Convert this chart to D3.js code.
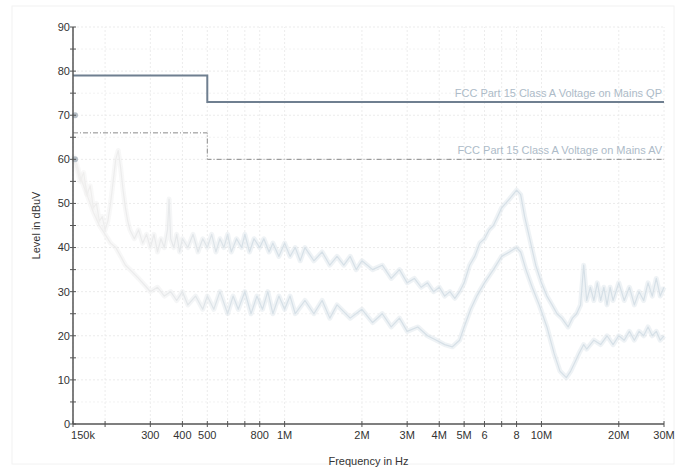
<!DOCTYPE html>
<html>
<head>
<meta charset="utf-8">
<script src="https://cdn.jsdelivr.net/npm/d3@7"></script>
<style>
  body { margin: 0; background: #fff; }
  svg { display: block; font-family: Arial, "Liberation Sans", sans-serif; }
</style>
</head>
<body>
<div id="chart"></div>
<script>
//DATA (frequency in MHz, level in dBuV)
const xTicks = [0.15, 0.2, 0.3, 0.4, 0.5, 0.6, 0.7, 0.8, 1, 2, 3, 4, 5, 6, 7, 8, 10, 20, 30];
const xTickLabels = ["150k", "", "300", "400", "500", "", "", "800", "1M", "2M", "3M", "4M", "5M", "6", "", "8", "10M", "20M", "30M"];
const yTicks = [0, 10, 20, 30, 40, 50, 60, 70, 80, 90];

const limitQP = [[0.15, 79], [0.5, 79], [0.5, 73], [30, 73]];
const limitAV = [[0.15, 66], [0.5, 66], [0.5, 60], [30, 60]];
const limitLabels = ["FCC Part 15 Class A Voltage on Mains QP", "FCC Part 15 Class A Voltage on Mains AV"];

const markers = [[0.15, 70], [0.15, 60]];

const peakTrace = [
  [0.150, 60], [0.155, 58], [0.160, 55], [0.165, 57], [0.170, 52], [0.175, 54], [0.180, 49],
  [0.185, 50], [0.190, 46], [0.195, 47], [0.200, 44], [0.205, 46], [0.210, 50], [0.215, 55],
  [0.220, 60], [0.225, 62], [0.230, 58], [0.235, 53], [0.240, 49], [0.245, 46], [0.250, 44],
  [0.260, 42], [0.270, 44], [0.280, 41], [0.290, 43], [0.300, 40], [0.310, 43], [0.320, 39],
  [0.330, 42], [0.340, 40], [0.350, 44], [0.355, 51], [0.360, 42], [0.370, 40], [0.380, 43],
  [0.390, 39], [0.400, 42], [0.420, 40], [0.440, 43], [0.460, 39], [0.480, 42], [0.500, 40],
  [0.520, 43], [0.540, 39], [0.560, 42], [0.580, 40], [0.600, 43], [0.620, 39], [0.650, 42],
  [0.680, 40], [0.700, 43], [0.730, 39], [0.760, 42], [0.800, 40], [0.830, 42], [0.870, 39],
  [0.900, 41], [0.950, 38], [1.00, 41], [1.05, 38], [1.10, 40], [1.15, 37], [1.20, 40],
  [1.30, 37], [1.40, 39], [1.50, 36], [1.60, 38], [1.70, 36], [1.80, 38], [1.90, 35],
  [2.00, 37], [2.20, 35], [2.40, 36], [2.60, 33], [2.80, 35], [3.00, 32], [3.20, 33],
  [3.40, 31], [3.60, 32], [3.80, 30], [4.00, 31], [4.20, 29], [4.40, 30], [4.60, 28.5],
  [4.80, 30], [5.00, 32], [5.25, 36], [5.50, 38], [5.75, 41], [6.00, 42], [6.25, 44],
  [6.50, 45], [6.75, 47], [7.00, 49], [7.25, 50], [7.50, 51], [7.75, 52], [8.00, 53],
  [8.30, 52], [8.60, 47], [9.00, 42], [9.50, 36], [10.0, 32], [10.5, 29], [11.0, 27],
  [11.5, 25], [12.0, 24], [12.7, 22], [13.2, 24], [13.7, 25], [14.2, 27], [14.6, 36],
  [15.0, 28], [15.5, 31], [16.0, 28], [16.5, 32], [17.0, 28], [17.5, 31], [18.0, 27],
  [18.5, 31], [19.0, 28], [20.0, 32], [21.0, 28], [22.0, 31], [23.0, 27], [24.0, 30],
  [25.0, 28], [26.0, 32], [27.0, 29], [28.0, 33], [29.0, 29], [30.0, 31]
];

const avgTrace = [
  [0.150, 61], [0.155, 59], [0.160, 56], [0.170, 52], [0.180, 48], [0.190, 45], [0.200, 43],
  [0.210, 41], [0.220, 40], [0.230, 38], [0.240, 36], [0.250, 35], [0.270, 33], [0.290, 31],
  [0.300, 30], [0.320, 31], [0.340, 29], [0.360, 30], [0.380, 28], [0.400, 30], [0.420, 27],
  [0.450, 29], [0.480, 26], [0.500, 29], [0.530, 26], [0.560, 30], [0.600, 25], [0.630, 29],
  [0.660, 26], [0.700, 30], [0.740, 25], [0.780, 29], [0.820, 26], [0.860, 30], [0.900, 25],
  [0.950, 29], [1.00, 26], [1.05, 29], [1.10, 25], [1.20, 28], [1.30, 25], [1.40, 28],
  [1.50, 24], [1.60, 27], [1.80, 24], [2.00, 26], [2.20, 23], [2.40, 25], [2.60, 22],
  [2.80, 24], [3.00, 21], [3.30, 22], [3.60, 20], [3.90, 19], [4.20, 18], [4.50, 17.5],
  [4.80, 19], [5.00, 22], [5.30, 26], [5.60, 29], [6.00, 32], [6.50, 35], [7.00, 38],
  [7.50, 39], [8.00, 40], [8.30, 39], [8.70, 35], [9.20, 31], [9.80, 27], [10.5, 22],
  [11.2, 16], [11.8, 12], [12.5, 10.5], [13.0, 12], [13.5, 14], [14.0, 16], [14.6, 18],
  [15.0, 17], [16.0, 19], [17.0, 18], [18.0, 20], [19.0, 18], [20.0, 20], [21.0, 19],
  [22.0, 21], [23.0, 19], [24.0, 21], [25.0, 20], [26.0, 22], [27.0, 20], [28.0, 21],
  [29.0, 19], [30.0, 20]
];

//INIT
const width = 682, height = 468;
const margin = { left: 73, right: 18, top: 27, bottom: 44 };

const svg = d3.select("#chart").append("svg")
  .attr("width", width)
  .attr("height", height);

const x = d3.scaleLog().domain([0.15, 30]).range([margin.left, width - margin.right]);
const y = d3.scaleLinear().domain([0, 90]).range([height - margin.bottom, margin.top]);

// faint outer frame
svg.append("rect")
  .attr("x", 12).attr("y", 6)
  .attr("width", width - 20).attr("height", height - 10)
  .attr("fill", "none")
  .attr("stroke", "#f2f2f2");

//GRID
svg.append("g")
  .selectAll("line")
  .data(xTicks)
  .enter().append("line")
  .attr("x1", d => x(d)).attr("x2", d => x(d))
  .attr("y1", y(0)).attr("y2", y(90))
  .attr("stroke", "#ececec")
  .attr("stroke-dasharray", "2,2");

svg.append("g")
  .selectAll("line")
  .data(d3.range(5, 91, 5))
  .enter().append("line")
  .attr("x1", x(0.15)).attr("x2", x(30))
  .attr("y1", d => y(d)).attr("y2", d => y(d))
  .attr("stroke", d => d % 10 === 0 ? "#ebebeb" : "#f2f2f2")
  .attr("stroke-dasharray", "2,2");

//TRACES
const defs = svg.append("defs");
const grad = defs.append("linearGradient")
  .attr("id", "traceGrad")
  .attr("gradientUnits", "userSpaceOnUse")
  .attr("x1", x(0.15)).attr("x2", x(0.7))
  .attr("y1", 0).attr("y2", 0);
grad.append("stop").attr("offset", 0).attr("stop-color", "#f0efee");
grad.append("stop").attr("offset", 0.5).attr("stop-color", "#e9eaeb");
grad.append("stop").attr("offset", 1).attr("stop-color", "#d6e0e7");

const line = d3.line()
  .x(d => x(d[0]))
  .y(d => y(d[1]));

[avgTrace, peakTrace].forEach(trace => {
  svg.append("path")
    .datum(trace)
    .attr("d", line)
    .attr("fill", "none")
    .attr("stroke", "url(#traceGrad)")
    .attr("stroke-width", 5)
    .attr("stroke-linejoin", "round")
    .attr("opacity", 0.4);
  svg.append("path")
    .datum(trace)
    .attr("d", line)
    .attr("fill", "none")
    .attr("stroke", "url(#traceGrad)")
    .attr("stroke-width", 1.2)
    .attr("stroke-linejoin", "round");
});

//LIMITS
svg.append("path")
  .datum(limitQP)
  .attr("d", line)
  .attr("fill", "none")
  .attr("stroke", "#6f7f90")
  .attr("stroke-width", 2);

svg.append("path")
  .datum(limitAV)
  .attr("d", line)
  .attr("fill", "none")
  .attr("stroke", "#8a8a8a")
  .attr("stroke-width", 1)
  .attr("stroke-dasharray", "5,2,1,2");

svg.append("g")
  .selectAll("text")
  .data(limitLabels)
  .enter().append("text")
  .attr("x", x(30) - 2)
  .attr("y", (d, i) => y(i === 0 ? 73 : 60) - 5)
  .attr("text-anchor", "end")
  .attr("font-size", "11px")
  .attr("fill", "#adbbc8")
  .text(d => d);

//MARKERS
svg.append("g")
  .selectAll("circle")
  .data(markers)
  .enter().append("circle")
  .attr("cx", d => x(d[0]) + 2)
  .attr("cy", d => y(d[1]))
  .attr("r", 3)
  .attr("fill", "#b5bec6");

//AXES
const axisColor = "#555";

svg.append("line")
  .attr("x1", x(0.15)).attr("x2", x(0.15))
  .attr("y1", y(0)).attr("y2", y(90))
  .attr("stroke", axisColor).attr("stroke-width", 1.5);

svg.append("line")
  .attr("x1", x(0.15)).attr("x2", x(30))
  .attr("y1", y(0)).attr("y2", y(0))
  .attr("stroke", axisColor).attr("stroke-width", 1.5);

// y ticks (major + minor)
svg.append("g")
  .selectAll("line")
  .data(d3.range(0, 91, 5))
  .enter().append("line")
  .attr("x1", x(0.15) - 3).attr("x2", x(0.15) + 3)
  .attr("y1", d => y(d)).attr("y2", d => y(d))
  .attr("stroke", axisColor);

svg.append("g")
  .selectAll("text")
  .data(yTicks)
  .enter().append("text")
  .attr("x", x(0.15) - 3)
  .attr("y", d => y(d))
  .attr("dy", "0.35em")
  .attr("text-anchor", "end")
  .attr("font-size", "11px")
  .attr("fill", "#333")
  .text(d => d);

// x ticks
svg.append("g")
  .selectAll("line")
  .data(xTicks)
  .enter().append("line")
  .attr("x1", d => x(d)).attr("x2", d => x(d))
  .attr("y1", y(0) - 3).attr("y2", y(0) + 3)
  .attr("stroke", axisColor);

svg.append("g")
  .selectAll("text")
  .data(xTicks)
  .enter().append("text")
  .attr("x", (d, i) => x(d) + (i === 0 ? 10 : 0))
  .attr("y", y(0) + 15)
  .attr("text-anchor", "middle")
  .attr("font-size", "11px")
  .attr("fill", "#333")
  .text((d, i) => xTickLabels[i]);

//AXIS TITLES
svg.append("text")
  .attr("transform", `translate(40,${(y(0) + y(90)) / 2}) rotate(-90)`)
  .attr("text-anchor", "middle")
  .attr("font-size", "11px")
  .attr("fill", "#333")
  .text("Level in dBuV");

svg.append("text")
  .attr("x", (x(0.15) + x(30)) / 2)
  .attr("y", height - 3)
  .attr("text-anchor", "middle")
  .attr("font-size", "11px")
  .attr("fill", "#333")
  .text("Frequency in Hz");
</script>
</body>
</html>
